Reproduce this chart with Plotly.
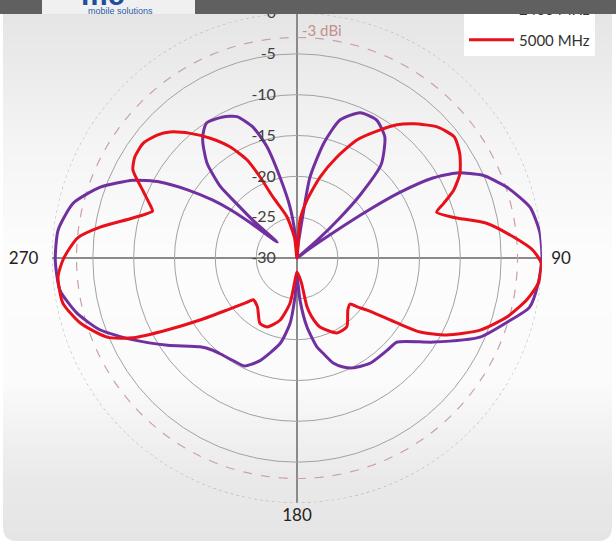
import plotly.graph_objects as go
import numpy as np

# ---------------- data ----------------
series_names = ["2400 MHz", "5000 MHz"]

purple_theta = [0, 3, 6.8, 9.1, 13.2, 17.3, 23.5, 30, 36, 42, 45, 47, 49, 51, 53.5, 55, 56.2, 57.5,
                59.5, 62, 66, 71.3, 77.7, 84, 90, 96, 102, 107, 113.4, 121.7, 130, 135.6, 145, 153,
                157, 161, 164.7, 167.3, 171.8, 175.9, 180, 183, 186, 191, 200, 206, 212, 218, 222.4,
                227.5, 236, 243.4, 250, 256, 262.3, 269.5, 276.7, 283.8, 289.8, 295.4, 299, 302,
                304.5, 306, 307, 308.7, 310.5, 312, 313, 316.5, 320.7, 323, 326.3, 332.3, 337,
                341.4, 344.9, 348.1, 352.2, 355.5, 358, 360]
purple_r = [-30, -29, -26.9, -20, -15.5, -12.3, -10.6, -10.5, -11.7, -14.6, -19, -23, -27, -30, -28,
            -24.6, -19.6, -15, -10.7, -7.8, -5.1, -2.9, -0.8, -0.1, 0, -0.3, -0.9, -3.1, -5.6, -10.4,
            -14.0, -14.2, -14.3, -14.9, -15.5, -16.4, -17.9, -18.8, -21.5, -24.8, -27.8, -25.2, -22,
            -19.4, -16.6, -15.3, -15.2, -15.0, -14.7, -13.9, -10.9, -7.6, -4.3, -2.2, -0.7, -0.4,
            -0.55, -1.8, -4.4, -7.8, -10.8, -14.3, -17.5, -20, -22.8, -26.9, -23, -20, -17.2, -14,
            -11.8, -10.9, -10.1, -10.5, -11.2, -13.1, -15.9, -19.9, -23.7, -27, -29.5, -30]

red_theta = [0, 4.5, 9.8, 15.9, 21.6, 26.9, 33, 36.9, 41.1, 46.9, 52.4, 57.2, 62.5, 66.6, 69.5, 71.8,
             75.3, 79.6, 84.4, 88.1, 91.2, 95.9, 100.3, 105.7, 111.5, 117.2, 121, 123, 126.6, 128.8,
             131, 135.6, 144.1, 151.9, 161.6, 166, 168.5, 170, 180, 185, 188.8, 195.3, 203.5, 209.6,
             219, 226.3, 228.5, 233.4, 237.4, 241, 244, 247.4, 253.3, 259.1, 265.5, 269.8, 275.2,
             278.9, 283.7, 288, 289.5, 293.4, 298.2, 301.9, 306.7, 311.3, 314.8, 319.4, 324.1, 328.9,
             333, 335.5, 338.5, 346.3, 353, 360]
red_r = [-30, -25.3, -22.8, -19.7, -16.7, -13.8, -11.3, -9.6, -8.2, -6.5, -5.7, -6.3, -7.5, -9.1,
         -10.8, -12.0, -10.3, -6.4, -3.4, -1.1, -0.1, -0.3, -1.4, -3.3, -5.9, -9.4, -12.4, -15.4,
         -19.3, -20.4, -21.4, -21.1, -19.6, -19.6, -21.1, -22.6, -24.0, -27.0, -28.3, -27.3, -24.4,
         -22.1, -20.8, -20.8, -22.3, -22.6, -21.8, -19.3, -15.9, -11.8, -7.7, -4.8, -2.3, -0.8,
         -0.65, -1.4, -3.0, -5.6, -9.3, -11.4, -11.0, -9.5, -7.2, -6.6, -6.5, -7.2, -8.1, -9.9,
         -11.9, -14.1, -16.5, -19.1, -22.0, -24.8, -27.5, -30]

radial_ticks = [-30, -25, -20, -15, -10, -5, 0]
radial_labels = ["-30", "-25", "-20", "-15", "-10", "-5", "0"]
angular_ticks = [0, 90, 180, 270]
NB = "\u00a0"
angular_labels = ["0", NB * 2 + "90", "180", "270" + NB * 3]
ref_level = -3
ref_label = "-3 dBi"
outer_level = 0

# ---------------- layout geometry ----------------
W, H = 616, 544
cx, cy, R = 297, 258, 245


def px(x, y):
    return f"{x / W:.5f},{1 - y / H:.5f}"


fig = go.Figure()

# background gradient panel (styling bands)
stops = [(0, 228), (60, 234), (150, 245), (250, 252), (380, 251), (430, 242), (480, 233), (541, 229)]
band = 4
shapes = []
for y0 in range(0, 541, band):
    y1 = min(y0 + band, 541)
    yc = (y0 + y1) / 2
    for (a, ca), (b, cb) in zip(stops[:-1], stops[1:]):
        if a <= yc <= b:
            v = int(round(ca + (cb - ca) * (yc - a) / (b - a)))
            break
    shapes.append(dict(type="rect", xref="paper", yref="paper", x0=3 / W, x1=612 / W,
                       y0=1 - y1 / H, y1=1 - y0 / H,
                       fillcolor=f"rgb({v},{v},{v})", line=dict(width=0), layer="below"))
# rounded bottom corners of the panel
for path in [
    f"M {px(3, 527)} L {px(3, 541)} L {px(17, 541)} Q {px(3, 541)} {px(3, 527)} Z",
    f"M {px(612, 527)} L {px(612, 541)} L {px(598, 541)} Q {px(612, 541)} {px(612, 527)} Z",
]:
    shapes.append(dict(type="path", xref="paper", yref="paper", path=path,
                       fillcolor="white", line=dict(width=0), layer="below"))

# reference circles
circ = np.arange(0, 361, 2)
fig.add_trace(go.Scatterpolar(r=[outer_level] * len(circ), theta=circ, mode="lines",
                              line=dict(color="#b0b0b0", dash="dot", width=1),
                              showlegend=False, hoverinfo="skip"))
fig.add_trace(go.Scatterpolar(r=[ref_level] * len(circ), theta=circ, mode="lines",
                              line=dict(color="#c9a0a6", dash="dash", width=1.2),
                              showlegend=False, hoverinfo="skip"))

fig.add_trace(go.Scatterpolar(r=purple_r, theta=purple_theta, mode="lines", name=series_names[0],
                              legendgroup="a",
                              line=dict(color="#7030a0", width=3, shape="spline", smoothing=0.6)))
fig.add_trace(go.Scatterpolar(r=red_r, theta=red_theta, mode="lines", name=series_names[1],
                              legendgroup="b",
                              line=dict(color="#e8101a", width=3, shape="spline", smoothing=0.6)))

annotations = [
    dict(text=ref_label, x=300 / W, y=1 - 30 / H, xref="paper", yref="paper", xanchor="left",
         yanchor="middle", showarrow=False, font=dict(size=15, color="#c58f8f", family="Lato")),
    # header bar
    dict(text=" ", x=0, y=1, xref="paper", yref="paper", xanchor="left", yanchor="top",
         showarrow=False, width=W, height=14, bgcolor="#606060", borderpad=0, borderwidth=0),
    dict(text=" ", x=42 / W, y=1, xref="paper", yref="paper", xanchor="left", yanchor="top",
         showarrow=False, width=153, height=14, bgcolor="#f0f0f0", borderpad=0, borderwidth=0),
    dict(text="<b>mc</b>", x=103 / W, y=1 - 13 / H, xref="paper", yref="paper", xanchor="center",
         yanchor="bottom", showarrow=False, font=dict(size=30, color="#1f4f9c", family="Liberation Sans")),
    dict(text="mobile solutions", x=120 / W, y=1 - 11 / H, xref="paper", yref="paper",
         xanchor="center", yanchor="middle", showarrow=False,
         font=dict(size=9, color="#2a5aa5", family="Liberation Sans")),
]

fig.update_layout(
    width=W, height=H,
    margin=dict(l=0, r=0, t=0, b=0, autoexpand=False),
    paper_bgcolor="white",
    shapes=shapes,
    annotations=annotations,
    showlegend=True,
    legend=dict(x=464 / W, y=1 + 7 / H, xanchor="left", yanchor="top", bgcolor="white",
                itemwidth=45, tracegroupgap=8,
                font=dict(size=15, color="#333333", family="Lato"), borderwidth=0),
    polar=dict(
        domain=dict(x=[(cx - R) / W, (cx + R) / W], y=[(H - cy - R) / H, (H - cy + R) / H]),
        bgcolor="rgba(0,0,0,0)",
        angularaxis=dict(rotation=90, direction="clockwise", tickmode="array",
                         tickvals=angular_ticks, ticktext=angular_labels, ticks="",
                         showline=False, showgrid=True, gridcolor="#8a8a8a", gridwidth=1.5,
                         tickfont=dict(size=17, color="#222222", family="Lato")),
        radialaxis=dict(range=[-30, 0], angle=90, tickangle=90, side="counterclockwise",
                        tickmode="array", tickvals=radial_ticks, ticktext=radial_labels,
                        ticks="outside", ticklen=15, tickcolor="rgba(0,0,0,0)",
                        showline=False, gridcolor="#a2a2a2", gridwidth=1,
                        tickfont=dict(size=16, color="#404040", family="Lato")),
    ),
)

fig.write_html("out.html", config={"displayModeBar": False},
               post_script="document.body.style.margin='0px';")
